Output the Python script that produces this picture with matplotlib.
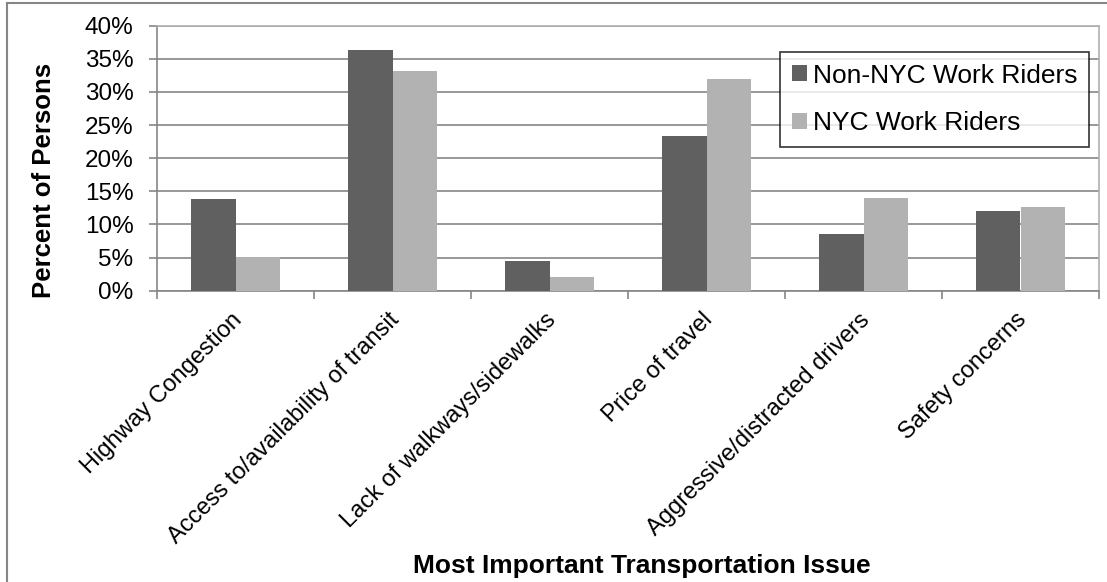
import numpy as np
import matplotlib.pyplot as plt
from matplotlib.lines import Line2D

plt.rcParams['font.family'] = ['Liberation Sans', 'DejaVu Sans']

categories = ['Highway Congestion', 'Access to/availability of transit',
              'Lack of walkways/sidewalks', 'Price of travel',
              'Aggressive/distracted drivers', 'Safety concerns']
non_nyc = [13.8, 36.3, 4.5, 23.4, 8.6, 12.1]
nyc = [5.1, 33.1, 2.1, 32.0, 14.0, 12.6]
series_names = ['Non-NYC Work Riders', 'NYC Work Riders']
yticks = [0, 5, 10, 15, 20, 25, 30, 35, 40]

grid_col = '#868686'
W, H = 1107, 582

fig = plt.figure(figsize=(W / 100, H / 100), dpi=100)
ax = fig.add_axes([157 / W, 1 - 290.7 / H, 942 / W, 265 / H])

x = np.arange(len(categories))
w = 1 / 3.5  # gap width 150%
ax.bar(x - w / 2, non_nyc, w, color='#606060', label=series_names[0], zorder=3)
ax.bar(x + w / 2, nyc, w, color='#b2b2b2', label=series_names[1], zorder=3)

ax.set_xlim(-0.5, len(categories) - 0.5)
ax.set_ylim(0, 40)
ax.set_yticks(yticks)
ax.set_yticklabels([f'{v}%' for v in yticks], fontsize=17.5)
ax.yaxis.grid(True, color=grid_col, lw=1.2, zorder=0)

ax.set_xticks(np.arange(len(categories) + 1) - 0.5)
ax.set_xticklabels([])
ax.tick_params(axis='both', direction='out', length=6, color=grid_col, width=1.2)
ax.tick_params(axis='y', pad=11)
for i, c in enumerate(categories):
    ax.text(i - 0.03, -2.75, c, rotation=45, ha='right', va='top',
            rotation_mode='anchor', fontsize=17)

for s in ax.spines.values():
    s.set_color(grid_col)
    s.set_linewidth(1.2)
ax.spines['top'].set_color('#b0b0b0')
ax.spines['right'].set_color('#b0b0b0')

fig.text(44 / W, 1 - 180 / H, 'Percent of Persons', rotation=90,
         ha='center', va='center', fontsize=18.5, fontweight='bold')
fig.text(642 / W, 1 - 566 / H, 'Most Important Transportation Issue',
         ha='center', va='center', fontsize=19, fontweight='bold')

leg = ax.legend(loc='upper right', bbox_to_anchor=(0.9894, 0.902), fontsize=19,
                frameon=True, fancybox=False, edgecolor='black',
                handlelength=0.57, handleheight=0.57, handletextpad=0.2,
                borderpad=0.45, labelspacing=0.9, borderaxespad=0)
leg.get_frame().set_linewidth(1.2)

# outer chart border (left and top edges visible)
fig.add_artist(Line2D([6.5 / W, 6.5 / W], [0, 1 - 3.3 / H],
                      transform=fig.transFigure, color=grid_col, lw=1.5))
fig.add_artist(Line2D([6.5 / W, 1], [1 - 3.3 / H, 1 - 3.3 / H],
                      transform=fig.transFigure, color=grid_col, lw=1.5))

fig.savefig('out.png', dpi=100)
